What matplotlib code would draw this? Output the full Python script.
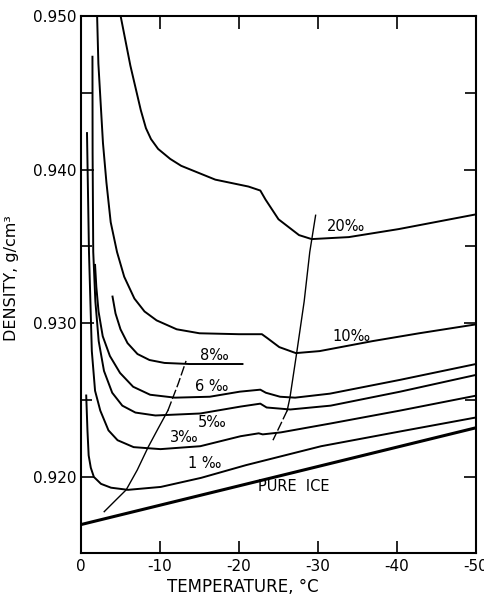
import matplotlib
matplotlib.use("Agg")
import matplotlib.pyplot as plt
from matplotlib.ticker import MultipleLocator

plt.rcParams["font.family"] = ["DejaVu Sans"]
plt.rcParams["axes.unicode_minus"] = False

# temperature (deg C) / density (g/cm3)
pure_t = [0, -50]
pure_d = [0.9169, 0.9232]

s1_t = [-0.66, -0.82, -0.97, -1.24, -1.63, -2.53, -3.8, -5.95, -10.1, -15.2, -20.9, -30.4, -40.5, -50]
s1_d = [0.9253, 0.9230, 0.9214, 0.9206, 0.9200, 0.91955, 0.9193, 0.91916, 0.91935, 0.91994,
        0.92077, 0.9220, 0.92297, 0.92387]

s3_t = [-0.76, -1.01, -1.37, -1.78, -2.44, -3.48, -4.63, -6.66, -10.06, -15.1, -20.2, -22.5,
        -23.0, -25.3, -31.6, -40.4, -50]
s3_d = [0.94238, 0.93465, 0.92819, 0.92561, 0.92432, 0.92303, 0.92239, 0.92194, 0.92181,
        0.92200, 0.92265, 0.92284, 0.92277, 0.92290, 0.92348, 0.92432, 0.92529]

s5_t = [-1.45, -1.47, -1.55, -1.82, -2.24, -2.91, -3.95, -5.23, -6.89, -9.42, -15.1, -20.2,
        -22.7, -23.5, -26.5, -31.6, -40.4, -50]
s5_d = [0.94735, 0.94109, 0.93465, 0.93142, 0.92884, 0.92690, 0.92548, 0.92464, 0.92419,
        0.92400, 0.92413, 0.92458, 0.92477, 0.92452, 0.92439, 0.92464, 0.92555, 0.92664]

s6_t = [-1.78, -1.94, -2.22, -2.75, -3.66, -4.94, -6.6, -8.75, -11.9, -16.3, -20.1, -22.7,
        -23.4, -25.2, -27.1, -31.5, -40.4, -50]
s6_d = [0.93380, 0.93238, 0.93077, 0.92916, 0.92787, 0.92677, 0.92587, 0.92535, 0.92516,
        0.92522, 0.92555, 0.92568, 0.92548, 0.92522, 0.92516, 0.92542, 0.92632, 0.92735]

s8_t = [-3.99, -4.37, -5.0, -5.89, -7.15, -8.67, -10.57, -13.73, -20.44]
s8_d = [0.93174, 0.93064, 0.92961, 0.92871, 0.92800, 0.92761, 0.92742, 0.92735, 0.92735]

s10_t = [-2.03, -2.2, -2.49, -2.78, -3.22, -3.76, -4.56, -5.47, -6.76, -8.04, -9.57, -12.11,
         -15.0, -20.0, -22.9, -23.6, -25.1, -27.2, -30.2, -36.9, -42.8, -50]
s10_d = [0.9502, 0.94690, 0.94432, 0.94174, 0.93916, 0.93658, 0.93464, 0.93303, 0.93161,
         0.93077, 0.93019, 0.92961, 0.92935, 0.92929, 0.92929, 0.92903, 0.92845, 0.92806,
         0.92819, 0.92884, 0.92935, 0.92993]

s20_t = [-4.94, -6.25, -7.57, -8.22, -8.86, -9.76, -11.29, -12.68, -17.0, -21.2, -22.7, -23.35,
         -25.0, -27.6, -29.2, -33.9, -40.2, -50]
s20_d = [0.9502, 0.94677, 0.94387, 0.94270, 0.94199, 0.94135, 0.94070, 0.94025, 0.93935,
         0.93890, 0.93864, 0.93806, 0.93677, 0.93574, 0.93548, 0.93561, 0.93613, 0.93709]

# phase boundary lines (solid part then dashed part, share one point)
left_t = [-2.94, -4.46, -5.72, -7.12, -8.5, -9.77, -11.0, -12.3, -13.3]
left_d = [0.91774, 0.91852, 0.91916, 0.92045, 0.92194, 0.92316, 0.92432, 0.92606, 0.92755]
left_split = 6
right_t = [-29.7, -28.96, -28.25, -27.3, -26.45, -26.1, -25.2, -24.3]
right_d = [0.93703, 0.93464, 0.93142, 0.92806, 0.92516, 0.92432, 0.92335, 0.92239]
right_split = 5

labels = ["20‰", "10‰", "8‰", "6 ‰", "5‰", "3‰", "1 ‰", "PURE  ICE"]
label_t = [-31.1, -31.8, -15.1, -14.4, -14.8, -11.3, -13.5, -22.4]
label_d = [0.93632, 0.92916, 0.92793, 0.92587, 0.92355, 0.92258, 0.9209, 0.91935]

xticks = [0, -10, -20, -30, -40, -50]
yticks = [0.920, 0.930, 0.940, 0.950]

fig = plt.figure(figsize=(4.85, 5.95), dpi=100)
ax = fig.add_axes([0.167, 0.0706, 0.8144, 0.9025])

lw = 1.4
ax.plot(pure_t, pure_d, color="black", lw=2.2)
for t, d in [(s1_t, s1_d), (s3_t, s3_d), (s5_t, s5_d), (s6_t, s6_d),
             (s8_t, s8_d), (s10_t, s10_d), (s20_t, s20_d)]:
    ax.plot(t, d, color="black", lw=lw, solid_joinstyle="round")

ax.plot(left_t[:left_split + 1], left_d[:left_split + 1], color="black", lw=1.0)
ax.plot(left_t[left_split:], left_d[left_split:], color="black", lw=1.0, ls=(0, (7, 2)))
ax.plot(right_t[:right_split + 1], right_d[:right_split + 1], color="black", lw=1.0)
ax.plot(right_t[right_split:], right_d[right_split:], color="black", lw=1.0, ls=(0, (7, 2)))

for s, t, d in zip(labels, label_t, label_d):
    ax.text(t, d, s, fontsize=10.5, ha="left", va="center")

ax.set_xlim(0, -50)
ax.set_ylim(0.91505, 0.950)
ax.set_xticks(xticks)
ax.set_xticklabels([str(v) for v in xticks])
ax.set_yticks(yticks)
ax.set_yticklabels(["%.3f" % v for v in yticks])
ax.yaxis.set_minor_locator(MultipleLocator(0.005))

ax.tick_params(which="both", direction="in", top=True, right=True, width=1.2,
               labelsize=11)
ax.tick_params(which="major", length=9)
ax.tick_params(which="minor", length=8)
ax.tick_params(axis="x", pad=4)
ax.tick_params(axis="y", pad=3)
for sp in ax.spines.values():
    sp.set_linewidth(1.5)

ax.set_xlabel("TEMPERATURE, °C", fontsize=12)
ax.xaxis.set_label_coords(0.41, -0.047)
ax.set_ylabel("DENSITY, g/cm³", fontsize=11.5)
ax.yaxis.set_label_coords(-0.158, 0.512)

fig.savefig("out.png", dpi=100)
